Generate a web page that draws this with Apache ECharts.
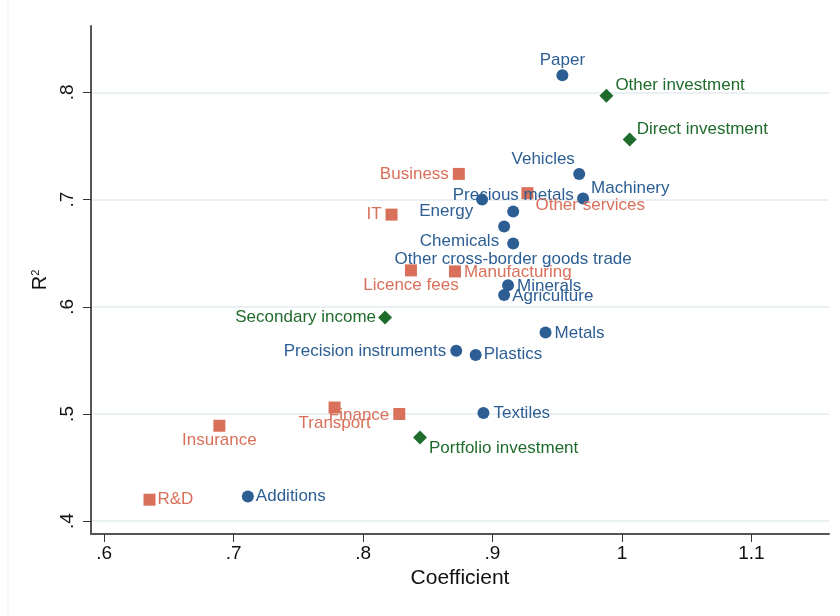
<!DOCTYPE html>
<html>
<head>
<meta charset="utf-8">
<script src="https://cdn.jsdelivr.net/npm/echarts@6/dist/echarts.min.js"></script>
<style>
  html, body { margin: 0; padding: 0; background: #fff; }
  #chart { width: 840px; height: 616px; }
</style>
</head>
<body>
<div id="chart"></div>
<script>
// goods trade (blue circles)
const goodsNames = ["Paper", "Vehicles", "Machinery", "Energy", "Precious metals", "Chemicals",
  "Other cross-border goods trade", "Minerals", "Agriculture", "Metals",
  "Precision instruments", "Plastics", "Textiles", "Additions"];
const goodsX = [0.954, 0.967, 0.970, 0.892, 0.916, 0.909, 0.916, 0.912, 0.909, 0.941, 0.872, 0.887, 0.893, 0.711];
const goodsY = [0.816, 0.724, 0.701, 0.700, 0.689, 0.675, 0.659, 0.620, 0.611, 0.576, 0.559, 0.555, 0.501, 0.423];

// services (orange squares)
const servNames = ["Business", "Other services", "IT", "Licence fees", "Manufacturing",
  "Transport", "Finance", "Insurance", "R&D"];
const servX = [0.874, 0.927, 0.822, 0.837, 0.871, 0.778, 0.828, 0.689, 0.635];
const servY = [0.724, 0.706, 0.686, 0.634, 0.633, 0.506, 0.500, 0.489, 0.420];

// income / investment (green diamonds)
const invNames = ["Other investment", "Direct investment", "Secondary income", "Portfolio investment"];
const invX = [0.988, 1.006, 0.817, 0.844];
const invY = [0.797, 0.756, 0.590, 0.478];

const xTicks = [0.6, 0.7, 0.8, 0.9, 1.0, 1.1];
const yTicks = [0.4, 0.5, 0.6, 0.7, 0.8];

// where each label sits relative to its marker
const labelPlace = {
  "Paper": ["top", 0, [0, 0]],
  "Vehicles": ["top", 0, [-36, 0]],
  "Machinery": ["right", 2, [0, -10]],
  "Energy": ["left", 3, [0, 12]],
  "Precious metals": ["top", 2, [0, 0]],
  "Chemicals": ["left", -1, [0, 15]],
  "Other cross-border goods trade": ["bottom", 1, [0, 0]],
  "Minerals": ["right", 3, [0, 1]],
  "Agriculture": ["right", 2, [0, 1]],
  "Metals": ["right", 3, [0, 1]],
  "Precision instruments": ["left", 4, [0, 1]],
  "Plastics": ["right", 2, [0, -1]],
  "Textiles": ["right", 4, [0, 0]],
  "Additions": ["right", 2, [0, 0]],
  "Business": ["left", 4, [0, 0]],
  "Other services": ["right", 2, [0, 12]],
  "IT": ["left", 4, [0, 0]],
  "Licence fees": ["bottom", 0, [0, 0]],
  "Manufacturing": ["right", 3, [0, 1]],
  "Transport": ["bottom", 1, [0, 0]],
  "Finance": ["left", 4, [0, 1]],
  "Insurance": ["bottom", 0, [0, 0]],
  "R&D": ["right", 2, [0, 0]],
  "Other investment": ["right", 2, [0, -10]],
  "Direct investment": ["right", 0, [0, -10]],
  "Secondary income": ["left", 2, [0, 0]],
  "Portfolio investment": ["right", 2, [0, 11]]
};

const blue = "#2c5e93";
const orange = "#d9705a";
const green = "#1f6b2c";
const font = "Liberation Sans, Arial, sans-serif";

const buildData = (names, xs, ys) =>
  names.map((n, i) => {
    const p = labelPlace[n];
    return {
      name: n,
      value: [xs[i], ys[i]],
      label: { position: p[0], distance: p[1], offset: p[2] }
    };
  });

const fmt = (v) => {
  const s = String(Math.round(v * 10) / 10);
  return s.startsWith("0.") ? s.slice(1) : s;
};

const makeSeries = (names, xs, ys, symbol, size, color) => ({
  type: "scatter",
  symbol: symbol,
  symbolSize: size,
  data: buildData(names, xs, ys),
  itemStyle: { color: color, opacity: 1 },
  label: {
    show: true,
    formatter: (p) => p.name,
    color: color,
    fontFamily: font,
    fontSize: 17
  },
  emphasis: { disabled: true },
  z: 3
});

const chart = echarts.init(document.getElementById("chart"), null, { renderer: "canvas" });

chart.setOption({
  animation: false,
  backgroundColor: "#fff",
  graphic: [{
    type: "line",
    shape: { x1: 8, y1: 0, x2: 8, y2: 616 },
    style: { stroke: "#eceff1", lineWidth: 1 }
  }],
  grid: { left: 91, right: 11, top: 26, bottom: 82 },
  xAxis: {
    type: "value",
    min: 0.5898,
    max: 1.16,
    name: "Coefficient",
    nameLocation: "middle",
    nameGap: 33,
    nameTextStyle: { fontFamily: font, fontSize: 21, color: "#111" },
    axisLine: { show: true, onZero: false, lineStyle: { color: "#555", width: 2 } },
    axisTick: { show: true, length: 8, customValues: xTicks, lineStyle: { color: "#333" } },
    axisLabel: { customValues: xTicks, formatter: fmt, fontFamily: font, fontSize: 19, color: "#111", margin: 10 },
    splitLine: { show: false }
  },
  yAxis: {
    type: "value",
    min: 0.388,
    max: 0.862,
    name: "{r|R}{s|2}",
    nameLocation: "middle",
    nameRotate: 90,
    nameGap: 39,
    nameTextStyle: {
      rich: {
        r: { fontFamily: font, fontSize: 20, color: "#111" },
        s: { fontFamily: font, fontSize: 11, color: "#111", verticalAlign: "top", padding: [0, 0, 9, 0] }
      }
    },
    axisLine: { show: true, onZero: false, lineStyle: { color: "#555", width: 2 } },
    axisTick: { show: true, length: 8, customValues: yTicks, lineStyle: { color: "#333" } },
    axisLabel: { customValues: yTicks, formatter: fmt, rotate: 90, fontFamily: font, fontSize: 19, color: "#111", margin: 14 },
    splitLine: { show: false }
  },
  series: [
    {
      type: "line",
      data: [],
      silent: true,
      markLine: {
        silent: true,
        z: 0,
        symbol: "none",
        label: { show: false },
        lineStyle: { color: "#e3edf2", type: "solid", width: 1.5 },
        data: yTicks.map((t) => ({ yAxis: t }))
      },
      z: 0
    },
    makeSeries(goodsNames, goodsX, goodsY, "circle", 12, blue),
    makeSeries(servNames, servX, servY, "rect", 12, orange),
    makeSeries(invNames, invX, invY, "path://M0,-1L1,0L0,1L-1,0Z", 14, green)
  ]
});
</script>
</body>
</html>
